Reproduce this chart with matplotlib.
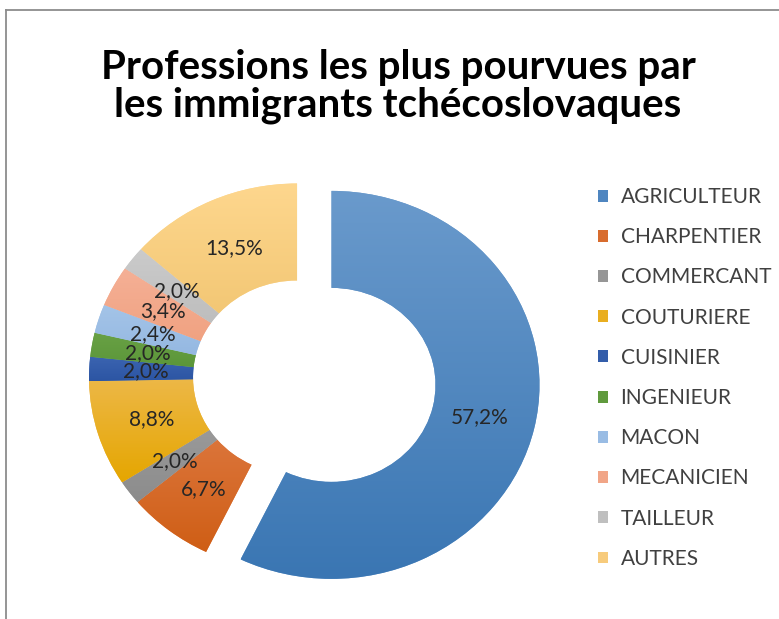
import matplotlib.pyplot as plt
import numpy as np
from matplotlib.patches import Patch
from matplotlib.lines import Line2D
from matplotlib.colors import LinearSegmentedColormap

plt.rcParams['font.family'] = ['Lato', 'DejaVu Sans']

# share of each profession (%)
professions = ['AGRICULTEUR', 'CHARPENTIER', 'COMMERCANT', 'COUTURIERE', 'CUISINIER',
               'INGENIEUR', 'MACON', 'MECANICIEN', 'TAILLEUR', 'AUTRES']
shares = [57.2, 6.7, 2.0, 8.8, 2.0, 2.0, 2.4, 3.4, 2.0, 13.5]
title_lines = ['Professions les plus pourvues par', 'les immigrants tchécoslovaques']

# excel-like gradient per slice: (top, bottom)
grad_colors = [('#6A9ACC', '#3A76B3'), ('#E2814F', '#CF5E15'), ('#A3A3A3', '#8C8C8C'),
               ('#EDB848', '#E5A600'), ('#3B64B1', '#2C55A3'), ('#69A145', '#579336'),
               ('#A4C4E8', '#8EB3DF'), ('#F5B096', '#EE9B77'), ('#CBCBCB', '#B4B4B4'),
               ('#FED78E', '#EDBF68')]
legend_colors = ['#4F86C0', '#D86C2E', '#969696', '#E9AE20', '#335DAA', '#609A3D',
                 '#99BCE4', '#F1A587', '#BFBFBF', '#F7CB7C']

fig = plt.figure(figsize=(7.79, 6.19), dpi=100)
ax = fig.add_axes([0, 0, 1, 1])

explode = [0.17] + [0] * (len(shares) - 1)
wedges, texts, autotexts = ax.pie(
    shares, startangle=90, counterclock=False, explode=explode,
    wedgeprops=dict(width=0.5, linewidth=0), pctdistance=0.73,
    autopct=lambda p: f'{p:.1f}%'.replace('.', ','),
    textprops=dict(fontsize=15, color='#262626'))

# fill each wedge with a vertical gradient
grad = np.linspace(0, 1, 256).reshape(-1, 1)
for w, (c_top, c_bot) in zip(wedges, grad_colors):
    verts = w.get_path().vertices
    x0, y0 = verts.min(axis=0)
    x1, y1 = verts.max(axis=0)
    cmap = LinearSegmentedColormap.from_list('g', [c_bot, c_top])
    im = ax.imshow(grad, cmap=cmap, extent=[x0, x1, y0, y1], origin='lower',
                   aspect='auto', interpolation='bilinear', zorder=2)
    im.set_clip_path(w)
    w.set_facecolor(c_top)

ax.set_xlim(-1.428, 2.317)
ax.set_ylim(-1.245, 1.946)
ax.set_aspect('auto')
ax.axis('off')

# title, one line at a time
for line, y in zip(title_lines, [68, 105]):
    fig.text(398 / 779, 1 - y / 619, line, ha='center', va='center',
             fontsize=29, fontweight='bold', color='black')

handles = [Patch(facecolor=c, edgecolor='none') for c in legend_colors]
fig.legend(handles, professions, loc='upper left', bbox_to_anchor=(598 / 779, 1 - 187 / 619),
           frameon=False, fontsize=15, handlelength=0.5, handleheight=0.5,
           handletextpad=0.58, labelspacing=0.97, borderpad=0, borderaxespad=0,
           labelcolor='#404040')

# chart border (top and left visible)
fig.add_artist(Line2D([6 / 779, 1], [1 - 10 / 619] * 2, transform=fig.transFigure,
                      color='#8C8C8C', lw=1.3))
fig.add_artist(Line2D([6 / 779] * 2, [0, 1 - 10 / 619], transform=fig.transFigure,
                      color='#8C8C8C', lw=1.3))

fig.savefig('out.png', dpi=100)
